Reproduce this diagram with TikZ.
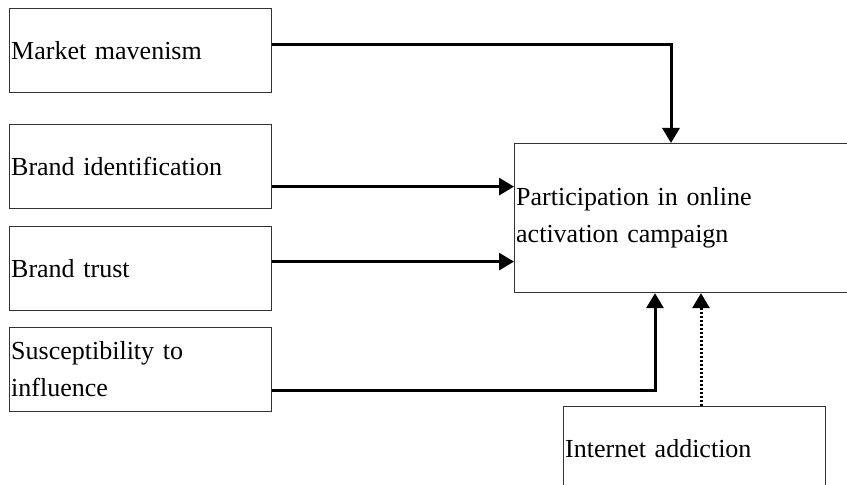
\documentclass[tikz,border=0pt]{standalone}
\usepackage{fontspec}
\setmainfont{Liberation Serif}
\usetikzlibrary{arrows.meta}

\begin{document}
\begin{tikzpicture}[x=0.5pt,y=-0.5pt,
		box/.style={draw=black!80, line width=0.6pt, anchor=north west, inner xsep=0.8pt, inner ysep=0pt, align=left, font=\fontsize{13pt}{18.5pt}\selectfont},
		var/.style={box, text width=129.4pt, minimum height=42pt},
		arr/.style={line width=1.5pt, -{Triangle[length=7.5pt,width=8.5pt]}},
		dotarr/.style={arr, dash pattern=on 1.2pt off 0.8pt}]
			\clip (0,0) rectangle (847,485);
			\node[var] (mav) at (9,8) {Market mavenism};
			\node[var] (ident) at (9,124) {Brand identification};
			\node[var] (trust) at (9,226) {Brand trust};
			\node[var] (suscep) at (9,327) {Susceptibility to\\influence};
			\node[box, text width=172pt, minimum height=74.5pt] (part) at (514,143) {Participation in online\\activation campaign};
			\node[var] (addict) at (563,406) {Internet addiction};
			\draw[arr] ([yshift=3.25pt]mav.east) -| ([xshift=78.5pt]part.north west);
			\draw[arr] ([yshift=-10pt]ident.east) -- ([yshift=-10pt]ident.east -| part.west);
			\draw[arr] ([yshift=3.5pt]trust.east) -- ([yshift=3.5pt]trust.east -| part.west);
			\draw[arr] ([yshift=-10.5pt]suscep.east) -| ([xshift=70.5pt]part.south west);
			\draw[dotarr] ([xshift=69pt]addict.north west) -- ([xshift=69pt]addict.north west |- part.south);
		\end{tikzpicture}
\end{document}
